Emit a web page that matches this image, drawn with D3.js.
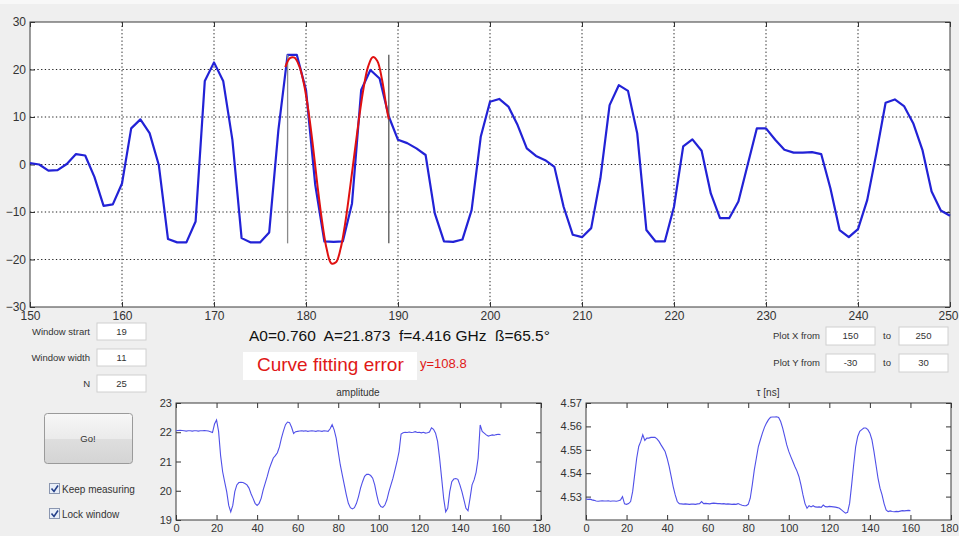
<!DOCTYPE html>
<html>
<head>
<meta charset="utf-8">
<script src="https://cdn.jsdelivr.net/npm/d3@7"></script>
<style>
  body { margin: 0; background: #efefef; }
  svg { display: block; font-family: "Liberation Sans", Arial, sans-serif; }
</style>
</head>
<body>
<div id="graph"></div>
<script>
var svgWidth = 959;
var svgHeight = 536;

// main trace, one sample per x unit from 150 to 250
var signalStart = 150;
var signalValues = [
  0.3, 0.0, -1.3, -1.2, 0.1, 2.2, 1.9, -2.6, -8.7, -8.4,
  -4.0, 7.6, 9.5, 6.6, -0.1, -15.7, -16.4, -16.4, -12.0, 17.6,
  21.5, 17.6, 5.2, -15.5, -16.4, -16.4, -14.3, 7.3, 23.1, 23.1,
  15.7, -4.2, -16.2, -16.3, -16.2, -8.2, 15.7, 19.9, 18.1, 10.1,
  5.2, 4.5, 3.4, 2.0, -10.3, -16.2, -16.3, -15.8, -9.6, 5.9,
  13.2, 13.8, 12.2, 8.3, 3.4, 1.8, 0.9, -0.5, -8.9, -14.8,
  -15.3, -13.4, -2.9, 12.5, 16.7, 15.5, 6.6, -13.8, -16.2, -16.2,
  -8.9, 3.8, 5.3, 2.9, -6.1, -11.3, -11.3, -7.8, -0.1, 7.6,
  7.6, 5.2, 3.1, 2.5, 2.5, 2.6, 2.2, -5.0, -13.8, -15.3,
  -13.6, -7.5, 2.4, 13.0, 13.7, 12.3, 8.7, 3.1, -5.7, -9.7,
  -10.8
];

// fitted curve inside the window
var fitX = [177.75, 178.25, 178.75, 179.25, 179.75, 180.25, 180.75, 181.25, 181.75, 182.25,
  182.75, 183.25, 183.75, 184.25, 184.75, 185.25, 185.75, 186.25, 186.75, 187.25,
  187.75, 188.25, 188.75, 189.0];
var fitY = [20.5, 22.4, 22.5, 20.8, 17.2, 11.5, 4.0, -4.5, -12.0, -17.8,
  -20.8, -20.6, -17.8, -12.5, -5.5, 2.0, 9.5, 16.0, 20.6, 22.6,
  21.8, 18.0, 12.0, 9.5];

var windowBounds = [178, 189];
var windowLevels = [-16.6, 23.1];

var mainXTicks = [150, 160, 170, 180, 190, 200, 210, 220, 230, 240, 250];
var mainYTicks = [-30, -20, -10, 0, 10, 20, 30];

// amplitude history, index 0..160
var amplitudeValues = [
  22.05, 22.06, 22.07, 22.06, 22.05, 22.04, 22.05, 22.05, 22.04, 22.05,
  22.05, 22.04, 22.05, 22.05, 22.06, 22.05, 22.04, 22.02, 21.99, 22.28,
  22.42, 22.03, 21.2, 20.65, 20.3, 19.97, 19.5, 19.28, 19.5, 19.97,
  20.2, 20.28, 20.29, 20.28, 20.25, 20.2, 20.09, 19.9, 19.74, 19.57,
  19.5, 19.57, 19.74, 20.03, 20.26, 20.49, 20.75, 20.94, 21.12, 21.2,
  21.3, 21.5, 21.8, 22.05, 22.26, 22.35, 22.33, 22.17, 21.96, 22.02,
  22.03, 22.04, 22.05, 22.04, 22.05, 22.03, 22.04, 22.05, 22.04, 22.03,
  22.05, 22.04, 22.03, 22.05, 22.04, 22.03, 22.12, 22.26, 22.08, 21.8,
  21.34, 20.89, 20.54, 20.2, 19.86, 19.57, 19.42, 19.38, 19.42, 19.57,
  19.8, 20.09, 20.31, 20.49, 20.56, 20.56, 20.52, 20.43, 20.2, 19.86,
  19.57, 19.46, 19.43, 19.51, 19.69, 19.97, 20.2, 20.43, 20.71, 21.0,
  21.34, 21.94, 21.98, 22.0, 21.99, 22.01, 21.99, 22.0, 22.02, 21.99,
  22.0, 21.98, 22.0, 21.97, 21.98, 22.01, 22.15, 22.1, 21.97, 21.69,
  21.11, 20.43, 19.74, 19.28, 19.4, 19.97, 20.31, 20.4, 20.42, 20.39,
  20.2, 19.97, 19.69, 19.4, 19.32, 19.74, 20.2, 20.37, 20.63, 21.11,
  22.25, 22.03, 21.97, 21.91, 21.87, 21.89, 21.91, 21.9, 21.92, 21.93,
  21.92
];

// tau history, index 0..160
var tauValues = [
  4.5290, 4.5288, 4.5289, 4.5286, 4.5284, 4.5281, 4.5280, 4.5281, 4.5282, 4.5281,
  4.5281, 4.5282, 4.5280, 4.5281, 4.5281, 4.5280, 4.5282, 4.5285, 4.5300, 4.5269,
  4.5267, 4.5270, 4.5279, 4.5321, 4.5393, 4.5464, 4.5514, 4.5536, 4.5564, 4.5540,
  4.5550, 4.5550, 4.5553, 4.5553, 4.5553, 4.5547, 4.5536, 4.5521, 4.5507, 4.5493,
  4.5464, 4.5429, 4.5386, 4.5343, 4.5307, 4.5279, 4.5270, 4.5269, 4.5268, 4.5269,
  4.5268, 4.5267, 4.5268, 4.5268, 4.5267, 4.5269, 4.5270, 4.5279, 4.5270, 4.5271,
  4.5270, 4.5269, 4.5271, 4.5272, 4.5271, 4.5270, 4.5270, 4.5269, 4.5270, 4.5268,
  4.5269, 4.5268, 4.5267, 4.5268, 4.5267, 4.5270, 4.5266, 4.5263, 4.5261, 4.5261,
  4.5267, 4.5293, 4.5350, 4.5414, 4.5464, 4.5514, 4.5543, 4.5571, 4.5596, 4.5614,
  4.5629, 4.5639, 4.5640, 4.5640, 4.5641, 4.5638, 4.5621, 4.5593, 4.5557, 4.5521,
  4.5493, 4.5471, 4.5450, 4.5429, 4.5410, 4.5386, 4.5350, 4.5307, 4.5270, 4.5250,
  4.5261, 4.5256, 4.5261, 4.5256, 4.5255, 4.5256, 4.5254, 4.5264, 4.5257, 4.5256,
  4.5258, 4.5257, 4.5256, 4.5255, 4.5253, 4.5250, 4.5243, 4.5236, 4.5229, 4.5233,
  4.5271, 4.5350, 4.5436, 4.5514, 4.5557, 4.5579, 4.5586, 4.5593, 4.5593, 4.5586,
  4.5571, 4.5543, 4.5493, 4.5436, 4.5379, 4.5336, 4.5307, 4.5270, 4.5243, 4.5236,
  4.5239, 4.5236, 4.5235, 4.5237, 4.5236, 4.5238, 4.5240, 4.5239, 4.5240, 4.5241,
  4.5240
];

var historyXTicks = [0, 20, 40, 60, 80, 100, 120, 140, 160, 180];
var amplitudeTicks = [19, 20, 21, 22, 23];
var tauTicks = [4.53, 4.54, 4.55, 4.56, 4.57];

var fitText = "A0=0.760  A=21.873  f=4.416 GHz  \u00DF=65.5\u00B0";
var errorText = "Curve fitting error";
var errorValue = "y=108.8";

var leftFields = [
  { label: "Window strart", value: "19" },
  { label: "Window width", value: "11" },
  { label: "N", value: "25" }
];
var rightFields = [
  { label: "Plot X from", from: "150", to: "250" },
  { label: "Plot Y from", from: "-30", to: "30" }
];
var checkLabels = ["Keep measuring", "Lock window"];

var svg = d3.select("#graph")
  .append("svg")
  .attr("width", svgWidth)
  .attr("height", svgHeight);

svg.append("rect").attr("width", svgWidth).attr("height", svgHeight).attr("fill", "#efefef");
svg.append("rect").attr("width", svgWidth).attr("height", 4).attr("fill", "#f8f8f8");

var defs = svg.append("defs");
var grad = defs.append("linearGradient").attr("id", "btn").attr("x1", 0).attr("y1", 0).attr("x2", 0).attr("y2", 1);
grad.append("stop").attr("offset", "0%").attr("stop-color", "#f7f7f7");
grad.append("stop").attr("offset", "50%").attr("stop-color", "#ebebeb");
grad.append("stop").attr("offset", "52%").attr("stop-color", "#dedede");
grad.append("stop").attr("offset", "100%").attr("stop-color", "#d4d4d4");

// draws a matlab-like box axes with inward ticks on all sides
function drawAxes(x, y, xTicks, yTicks, yFormat, fontSize, grid) {
  var x0 = x.range()[0], x1 = x.range()[1];
  var y0 = y.range()[0], y1 = y.range()[1];
  var g = svg.append("g");

  g.append("rect")
    .attr("x", x0).attr("y", y1)
    .attr("width", x1 - x0).attr("height", y0 - y1)
    .attr("fill", "#fff");

  if (grid) {
    g.selectAll(".vg").data(xTicks.slice(1, -1)).enter().append("line")
      .attr("x1", d => x(d)).attr("x2", d => x(d))
      .attr("y1", y1).attr("y2", y0)
      .attr("stroke", "#222").attr("stroke-width", 1)
      .attr("stroke-dasharray", "1.3,2.4");
    g.selectAll(".hg").data(yTicks.slice(1, -1)).enter().append("line")
      .attr("y1", d => y(d)).attr("y2", d => y(d))
      .attr("x1", x0).attr("x2", x1)
      .attr("stroke", "#222").attr("stroke-width", 1)
      .attr("stroke-dasharray", "1.3,2.4");
  }

  var bottom = g.append("g").attr("transform", "translate(0," + y0 + ")")
    .call(d3.axisBottom(x).tickValues(xTicks).tickSizeInner(-5).tickSizeOuter(0).tickPadding(4));
  g.append("g").attr("transform", "translate(" + x0 + ",0)")
    .call(d3.axisLeft(y).tickValues(yTicks).tickFormat(yFormat).tickSizeInner(-5).tickSizeOuter(0).tickPadding(4));
  g.append("g").attr("transform", "translate(0," + y1 + ")")
    .call(d3.axisTop(x).tickValues(xTicks).tickFormat("").tickSizeInner(-5).tickSizeOuter(0));
  g.append("g").attr("transform", "translate(" + x1 + ",0)")
    .call(d3.axisRight(y).tickValues(yTicks).tickFormat("").tickSizeInner(-5).tickSizeOuter(0));

  g.selectAll(".domain").remove();
  g.selectAll(".tick line").attr("stroke", "#333");
  g.selectAll(".tick text").attr("fill", "#333").style("font-size", fontSize + "px")
    .style("font-family", "Liberation Sans, Arial, sans-serif");

  // keep the last x label inside the window
  bottom.selectAll(".tick text")
    .filter(d => d == xTicks[xTicks.length - 1] && x1 > svgWidth - 20)
    .attr("text-anchor", "end")
    .attr("x", svgWidth - 1 - x1);

  g.append("rect")
    .attr("x", x0).attr("y", y1)
    .attr("width", x1 - x0).attr("height", y0 - y1)
    .attr("fill", "none").attr("stroke", "#3a3a3a").attr("stroke-width", 1);
  return g;
}

// ---- main plot ----
var mainX = d3.scaleLinear().domain([150, 250]).range([30, 950]);
var mainY = d3.scaleLinear().domain([-30, 30]).range([307, 22]);
drawAxes(mainX, mainY, mainXTicks, mainYTicks, d3.format("d"), 12, true);

var signalLine = d3.line()
  .x((d, i) => mainX(signalStart + i))
  .y(d => mainY(d));

var plotArea = svg.append("g");

plotArea.append("path")
  .datum(signalValues)
  .attr("d", signalLine)
  .attr("fill", "none")
  .attr("stroke", "#2222d6")
  .attr("stroke-width", 2.2)
  .attr("stroke-linejoin", "round");

plotArea.selectAll(".win").data(windowBounds).enter().append("line")
  .attr("x1", d => mainX(d)).attr("x2", d => mainX(d))
  .attr("y1", mainY(windowLevels[1])).attr("y2", mainY(windowLevels[0]))
  .attr("stroke", (d, i) => i == 0 ? "#8a8a8a" : "#555")
  .attr("stroke-width", 1.3);

var fitLine = d3.line()
  .x((d, i) => mainX(fitX[i]))
  .y(d => mainY(d))
  .curve(d3.curveCatmullRom);

plotArea.append("path")
  .datum(fitY)
  .attr("d", fitLine)
  .attr("fill", "none")
  .attr("stroke", "#e01010")
  .attr("stroke-width", 2);

// ---- fit result text ----
svg.append("text")
  .attr("x", 249).attr("y", 341)
  .attr("fill", "#111")
  .style("font-size", "15.5px")
  .style("white-space", "pre")
  .text(fitText);

svg.append("rect")
  .attr("x", 243).attr("y", 352).attr("width", 174).attr("height", 28)
  .attr("fill", "#fff");
svg.append("text")
  .attr("x", 257).attr("y", 371)
  .attr("fill", "#e01818")
  .style("font-size", "19px")
  .text(errorText);
svg.append("text")
  .attr("x", 420).attr("y", 368)
  .attr("fill", "#e01818")
  .style("font-size", "13px")
  .text(errorValue);

// ---- left edit fields ----
leftFields.forEach(function (f, i) {
  var yTop = 323 + i * 26;
  svg.append("text")
    .attr("x", 90).attr("y", yTop + 12)
    .attr("text-anchor", "end")
    .attr("fill", "#333")
    .style("font-size", "9.5px")
    .text(f.label);
  svg.append("rect")
    .attr("x", 97).attr("y", yTop).attr("width", 49).attr("height", 17)
    .attr("fill", "#fff").attr("stroke", "#d0d0d0");
  svg.append("text")
    .attr("x", 121.5).attr("y", yTop + 12)
    .attr("text-anchor", "middle")
    .attr("fill", "#333")
    .style("font-size", "9.5px")
    .text(f.value);
});

// ---- right edit fields ----
rightFields.forEach(function (f, i) {
  var yTop = 327 + i * 27;
  svg.append("text")
    .attr("x", 820).attr("y", yTop + 12)
    .attr("text-anchor", "end")
    .attr("fill", "#333")
    .style("font-size", "9.5px")
    .text(f.label);
  svg.append("rect")
    .attr("x", 826).attr("y", yTop).attr("width", 49).attr("height", 18)
    .attr("fill", "#fff").attr("stroke", "#d0d0d0");
  svg.append("text")
    .attr("x", 850.5).attr("y", yTop + 12)
    .attr("text-anchor", "middle")
    .attr("fill", "#333")
    .style("font-size", "9.5px")
    .text(f.from);
  svg.append("text")
    .attr("x", 887).attr("y", yTop + 12)
    .attr("text-anchor", "middle")
    .attr("fill", "#333")
    .style("font-size", "9.5px")
    .text("to");
  svg.append("rect")
    .attr("x", 899).attr("y", yTop).attr("width", 49).attr("height", 18)
    .attr("fill", "#fff").attr("stroke", "#d0d0d0");
  svg.append("text")
    .attr("x", 923.5).attr("y", yTop + 12)
    .attr("text-anchor", "middle")
    .attr("fill", "#333")
    .style("font-size", "9.5px")
    .text(f.to);
});

// ---- Go button and checkboxes ----
svg.append("rect")
  .attr("x", 44.5).attr("y", 413.5).attr("width", 88).attr("height", 50)
  .attr("rx", 3)
  .attr("fill", "url(#btn)").attr("stroke", "#9a9a9a");
svg.append("text")
  .attr("x", 88).attr("y", 442)
  .attr("text-anchor", "middle")
  .attr("fill", "#333")
  .style("font-size", "9.5px")
  .text("Go!");

checkLabels.forEach(function (label, i) {
  var cy = 489 + i * 25;
  svg.append("rect")
    .attr("x", 49.5).attr("y", cy - 5.5).attr("width", 10).attr("height", 10)
    .attr("fill", "#e8eef8").attr("stroke", "#8a96b0");
  svg.append("path")
    .attr("d", "M51.5," + (cy - 0.5) + " L54," + (cy + 2.5) + " L58," + (cy - 3.5))
    .attr("fill", "none").attr("stroke", "#24408a").attr("stroke-width", 1.6);
  svg.append("text")
    .attr("x", 62).attr("y", cy + 3.5)
    .attr("fill", "#333")
    .style("font-size", "10px")
    .text(label);
});

// ---- amplitude history ----
var ampX = d3.scaleLinear().domain([0, 180]).range([176, 541]);
var ampY = d3.scaleLinear().domain([19, 23]).range([520, 403]);
drawAxes(ampX, ampY, historyXTicks, amplitudeTicks, d3.format("d"), 11, false);

svg.append("path")
  .datum(amplitudeValues)
  .attr("d", d3.line().x((d, i) => ampX(i)).y(d => ampY(d)))
  .attr("fill", "none")
  .attr("stroke", "#5050e8")
  .attr("stroke-width", 1.1);

svg.append("text")
  .attr("x", 358).attr("y", 396)
  .attr("text-anchor", "middle")
  .attr("fill", "#333")
  .style("font-size", "10px")
  .text("amplitude");

// ---- tau history ----
var tauX = d3.scaleLinear().domain([0, 180]).range([586, 951]);
var tauY = d3.scaleLinear().domain([4.52, 4.57]).range([520, 403]);
drawAxes(tauX, tauY, historyXTicks, tauTicks, d3.format(".2f"), 11, false);

svg.append("path")
  .datum(tauValues)
  .attr("d", d3.line().x((d, i) => tauX(i)).y(d => tauY(d)))
  .attr("fill", "none")
  .attr("stroke", "#5050e8")
  .attr("stroke-width", 1.1);

svg.append("text")
  .attr("x", 768).attr("y", 396)
  .attr("text-anchor", "middle")
  .attr("fill", "#333")
  .style("font-size", "10px")
  .text("\u03C4 [ns]");
</script>
</body>
</html>
